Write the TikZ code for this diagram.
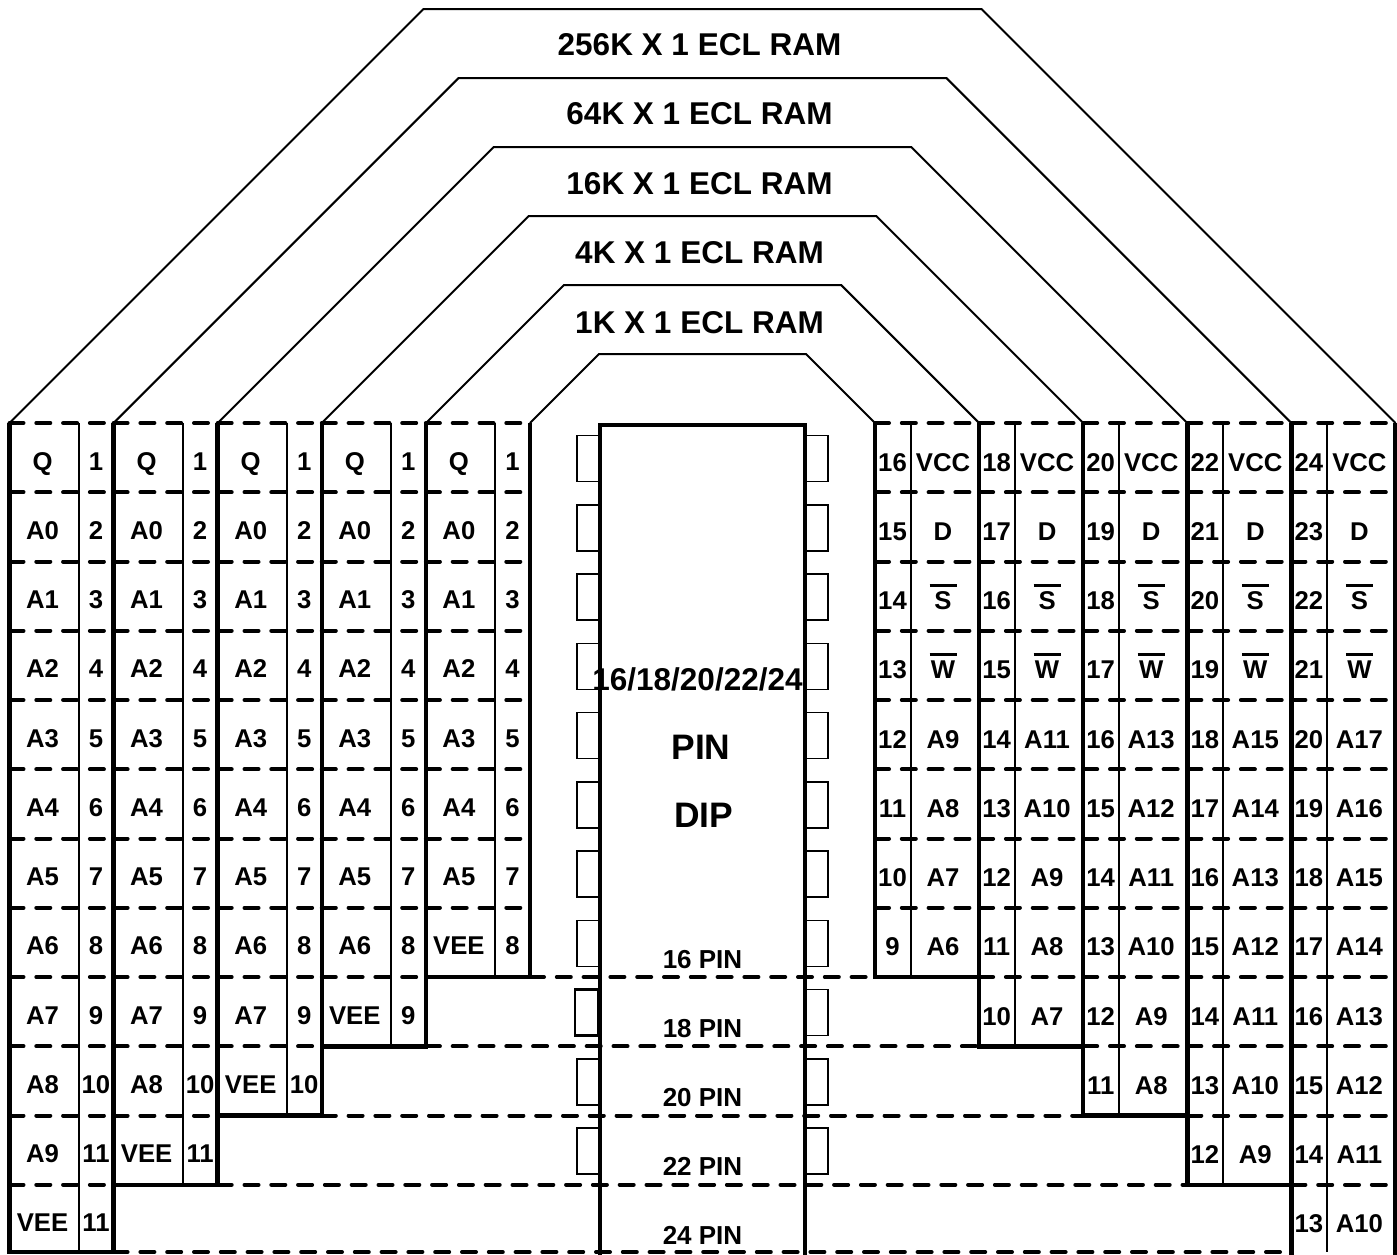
\documentclass[tikz,border=0pt]{standalone}
\usepackage{fontspec}
\setmainfont{Liberation Sans}
\newcommand\ovl[1]{\setbox0=\hbox{#1}\hbox{\rlap{\hspace{\dimexpr(\wd0-13.5pt)/2\relax}\rule[\dimexpr\ht0+2.3pt\relax]{13.5pt}{1.65pt}}\box0}}
\begin{document}
\begin{tikzpicture}[x=0.5pt,y=-0.5pt,
  thickln/.style={line width=2.25pt,line join=miter},
  thinln/.style={line width=1pt},
  dashln/.style={line width=2pt,dash pattern=on 7pt off 6.4pt,line cap=round},
  outline/.style={line width=1pt,line join=miter},
  pinbox/.style={line width=0.75pt},
  cell/.style={font=\fontsize{12.85}{14}\selectfont\bfseries,anchor=base,inner sep=0pt},
  title/.style={font=\fontsize{15.75}{18}\selectfont\bfseries,anchor=base,inner sep=0pt},
  big/.style={font=\fontsize{17.7}{20}\selectfont\bfseries,anchor=base,inner sep=0pt},
  pinlbl/.style={font=\fontsize{13}{15}\selectfont\bfseries,anchor=base,inner sep=0pt}]
\useasboundingbox (0,0) rectangle (1397,1254);

% trapezoid outlines
\foreach \c in {0,...,4} {
  \pgfmathsetmacro\Lx{9.5+104.1*\c}
  \pgfmathsetmacro\Rr{1395.5-104.1*\c}
  \pgfmathsetmacro\d{69*(6-\c)}
  \draw[outline] (\Lx,423) -- (\Lx+\d,423-\d) -- (\Rr-\d,423-\d) -- (\Rr,423);
}
\draw[outline] (530,423) -- (599,354) -- (806,354) -- (875,423);

% titles
\node[title] (t256) at (699.5,55) {256K X 1 ECL RAM};
\node[title] (t64) at (699.5,124.5) {64K X 1 ECL RAM};
\node[title] (t16) at (699.5,194) {16K X 1 ECL RAM};
\node[title] (t4) at (699.5,263.5) {4K X 1 ECL RAM};
\node[title] (t1) at (699.5,333) {1K X 1 ECL RAM};

% blocks
\foreach \c in {0,...,4} {
  \pgfmathtruncatemacro\n{12-\c}
  \pgfmathtruncatemacro\nl{11-\c}
  \pgfmathsetmacro\Lx{9.5+104.1*\c}
  \pgfmathsetmacro\Lr{\Lx+104.1}
  \pgfmathsetmacro\Rx{1291.4-104.1*\c}
  \pgfmathsetmacro\Rr{\Rx+104.1}
  \pgfmathsetmacro\yb{min(423+69.25*\n,1252)}
  % dashed row separators
  \foreach \j in {0,...,\nl} {
    \pgfmathsetmacro\yy{423+69.25*\j}
    \draw[dashln] (\Lx,\yy) -- (\Lr,\yy);
    \draw[dashln] (\Rx,\yy) -- (\Rr,\yy);
  }
  % dashed line crossing the middle
  \draw[dashln] (\Lr,\yb) -- (\Rx,\yb);
  % thin dividers
  \draw[thinln] (\Lx+69,423) -- (\Lx+69,\yb);
  \draw[thinln] (\Rx+35.5,423) -- (\Rx+35.5,\yb);
  % outlines
  \draw[thickln] (\Lx,423) -- (\Lx,\yb) -- (\Lr,\yb) -- (\Lr,423);
  \ifnum\c=0
    \draw[thickln] (\Rx,423) -- (\Rx,1256);
    \draw[thickln] (\Rr,423) -- (\Rr,1256);
  \else
    \draw[thickln] (\Rx,423) -- (\Rx,\yb) -- (\Rr,\yb) -- (\Rr,423);
  \fi
  % labels
  \foreach \i in {1,...,\n} {
    \pgfmathsetmacro\yt{423+69.25*(\i-1)}
    \pgfmathtruncatemacro\ai{\i-2}
    \pgfmathtruncatemacro\num{\i-(\c==0)*(\i==12)}
    \pgfmathtruncatemacro\rn{2*\n+1-\i}
    \pgfmathtruncatemacro\ra{2*\n-2-\i}
    \node[cell] (ln-\c-\i) at (\Lx+33,\yt+47)
      {\ifnum\i=1 Q\else\ifnum\i=\n VEE\else A\ai\fi\fi};
    \node[cell] (lp-\c-\i) at (\Lx+86.5,\yt+47) {\num};
    \node[cell] (rp-\c-\i) at (\Rx+17.5,\yt+48) {\rn};
    \node[cell] (rn-\c-\i) at (\Rx+68,\yt+48)
      {\ifcase\i\or VCC\or D\or \ovl{S}\or \ovl{W}\else A\ra\fi};
  }
}

% pins of the DIP
\foreach \i in {1,...,11} {
  \pgfmathsetmacro\yc{423+69.25*(\i-0.5)+1}
  \ifnum\i=9
    \draw[line width=1.25pt] (575,\yc-23) rectangle (598,\yc+23);
  \else
    \draw[pinbox] (577,\yc-23) rectangle (600,\yc+23);
  \fi
  \draw[pinbox] (805,\yc-23) rectangle (828,\yc+23);
}
% DIP body
\draw[line width=2.4pt,line join=miter] (600,1260) -- (600,425) -- (805,425) -- (805,1260);

\node[title] (pins) at (697.5,690) {16/18/20/22/24};
\node[big] (pin) at (701,759.5) {PIN};
\node[big] (dip) at (703.5,827) {DIP};
\node[pinlbl] (p16) at (702.5,968.5) {16 PIN};
\node[pinlbl] (p18) at (702.5,1037.5) {18 PIN};
\node[pinlbl] (p20) at (702.5,1106.5) {20 PIN};
\node[pinlbl] (p22) at (702.5,1175.5) {22 PIN};
\node[pinlbl] (p24) at (702.5,1244.5) {24 PIN};
\end{tikzpicture}
\end{document}
